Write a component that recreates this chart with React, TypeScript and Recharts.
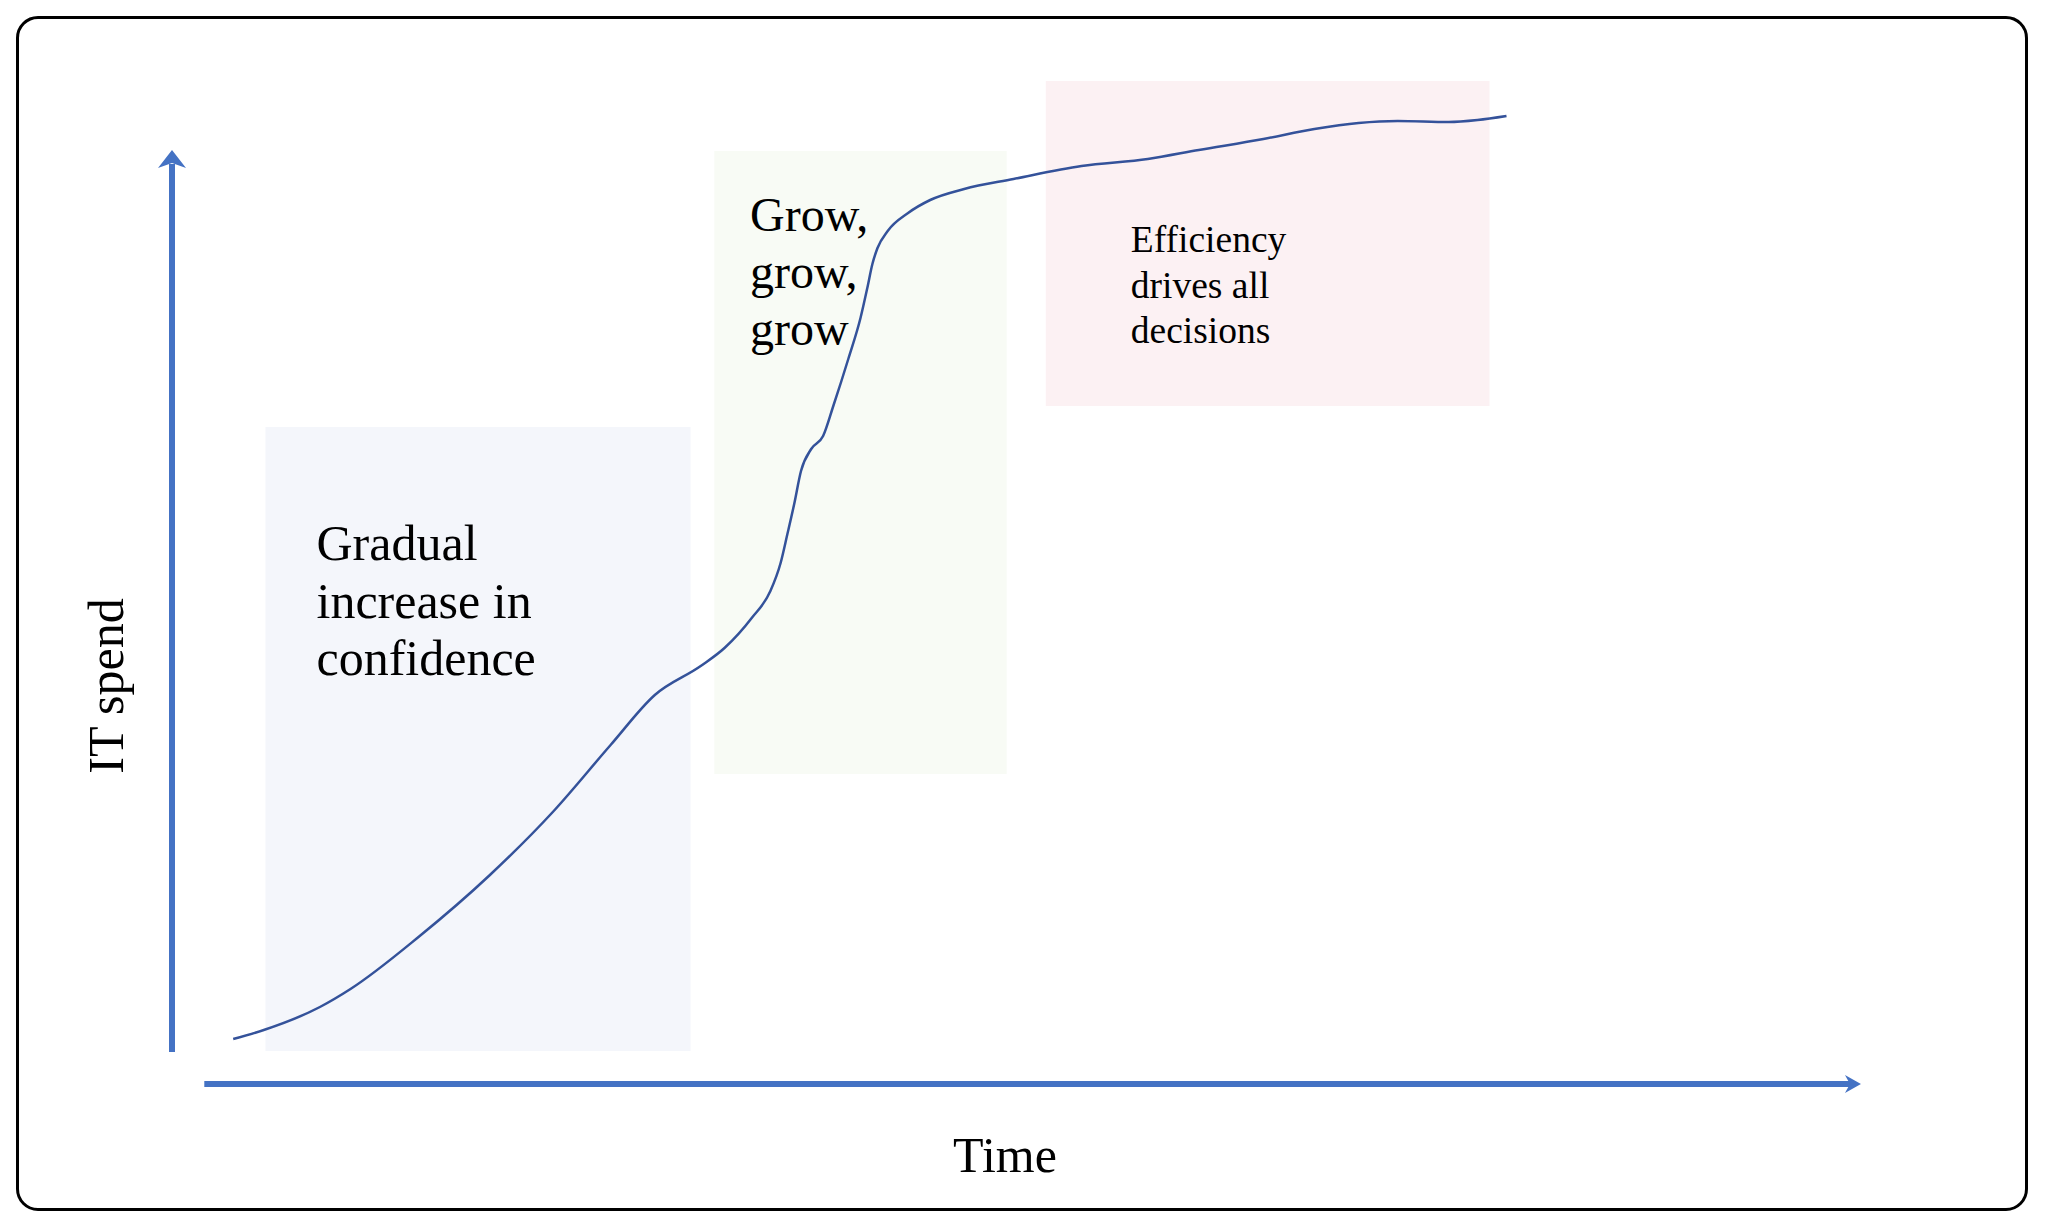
import React from 'react';
import {
  ComposedChart,
  Line,
  XAxis,
  YAxis,
  ReferenceArea,
  ReferenceLine,
  ReferenceDot,
} from 'recharts';

// ---- curve (time vs IT spend) ----
const timeValues = [
  3.6, 5.4, 8.7, 10.5, 14.5, 18.7, 22.4, 25.8, 28.4, 31.1, 32.5, 34.1, 35.2, 35.8,
  36.2, 36.6, 37.0, 37.6, 38.3, 38.9, 39.8, 40.5, 40.9, 41.2, 41.5, 42.1, 43.3,
  44.6, 46.6, 49.5, 53.5, 57.4, 60.4, 64.2, 67.2, 69.8, 72.1, 75.1, 76.8, 78.5,
];
const spendValues = [
  4.5, 5.4, 7.7, 9.5, 14.7, 20.9, 27.2, 33.9, 38.9, 41.8, 43.6, 46.6, 49.3, 52.1,
  55.0, 58.0, 61.3, 63.5, 64.8, 67.8, 72.6, 76.6, 79.6, 82.0, 83.6, 85.3, 87.1,
  88.4, 89.5, 90.5, 91.8, 92.5, 93.4, 94.5, 95.5, 96.1, 96.3, 96.2, 96.4, 96.8,
];

// ---- phase boxes ----
const phaseStart = [5.5, 31.9, 51.4];
const phaseEnd = [30.5, 49.1, 77.5];
const phaseLow = [3.3, 31.0, 67.8];
const phaseHigh = [65.7, 93.3, 100.3];
const phaseColors = ['#F4F6FB', '#F8FBF5', '#FCF1F3'];

// ---- phase texts ----
const phaseLabels = [
  ['Gradual', 'increase in', 'confidence'],
  ['Grow,', 'grow,', 'grow'],
  ['Efficiency', 'drives all', 'decisions'],
];
const labelX = [8.5, 34.0, 56.4];
const labelY = [52.4, 85.3, 83.2];
const labelSize = [50, 48, 37.5];
const labelLineHeight = [57.5, 57, 45.5];

// ---- axis titles ----
const xTitle = 'Time';
const yTitle = 'IT spend';

const AXIS_COLOR = '#4472C4';
const LINE_COLOR = '#34529A';
const FONT = "'Liberation Serif', 'Times New Roman', serif";

const data = timeValues.map((t, i) => ({ time: t, spend: spendValues[i] }));

const multiLine = (lines: string[], size: number, lh: number) => (p: any) => (
  <text x={p.cx} y={p.cy} fontFamily={FONT} fontSize={size} fill="#000">
    {lines.map((l, i) => (
      <tspan key={i} x={p.cx} dy={i === 0 ? 0 : lh}>
        {l}
      </tspan>
    ))}
  </text>
);

const upArrow = (p: any) => (
  <polygon
    points={`${p.cx},${p.cy} ${p.cx + 14},${p.cy + 18} ${p.cx},${p.cy + 13} ${p.cx - 14},${p.cy + 18}`}
    fill={AXIS_COLOR}
  />
);

const rightArrow = (p: any) => (
  <polygon
    points={`${p.cx},${p.cy} ${p.cx - 16},${p.cy - 9} ${p.cx - 11},${p.cy} ${p.cx - 16},${p.cy + 9}`}
    fill={AXIS_COLOR}
  />
);

const xTitleShape = (p: any) => (
  <text x={p.cx} y={p.cy} textAnchor="middle" fontFamily={FONT} fontSize={50} fill="#000">
    {xTitle}
  </text>
);

const yTitleShape = (p: any) => (
  <text
    x={p.cx}
    y={p.cy}
    textAnchor="middle"
    fontFamily={FONT}
    fontSize={50}
    fill="#000"
    transform={`rotate(-90, ${p.cx}, ${p.cy})`}
  >
    {yTitle}
  </text>
);

export default function App() {
  return (
    <div style={{ position: 'absolute', left: 0, top: 0, width: 2048, height: 1224, background: '#fff' }}>
      <div
        style={{
          position: 'absolute',
          left: 16,
          top: 16,
          width: 2012,
          height: 1195,
          boxSizing: 'border-box',
          border: '3px solid #000',
          borderRadius: 22,
        }}
      />
      <div style={{ position: 'absolute', left: 0, top: 0 }}>
        <ComposedChart
          width={2048}
          height={1224}
          data={data}
          margin={{ top: 84, right: 176, bottom: 140, left: 172 }}
        >
          <XAxis dataKey="time" type="number" domain={[0, 100]} hide />
          <YAxis type="number" domain={[0, 100]} hide />
          {phaseStart.map((s, i) => (
            <ReferenceArea
              key={'a' + i}
              x1={s}
              x2={phaseEnd[i]}
              y1={phaseLow[i]}
              y2={phaseHigh[i]}
              fill={phaseColors[i]}
              fillOpacity={1}
              stroke="none"
              ifOverflow="visible"
            />
          ))}
          <ReferenceLine
            segment={[{ x: 0, y: 3.2 }, { x: 0, y: 92 }]}
            stroke={AXIS_COLOR}
            strokeWidth={6}
            ifOverflow="visible"
          />
          <ReferenceLine
            segment={[{ x: 1.9, y: 0 }, { x: 98.8, y: 0 }]}
            stroke={AXIS_COLOR}
            strokeWidth={6}
            ifOverflow="visible"
          />
          <ReferenceDot x={0} y={93.4} r={0} ifOverflow="visible" shape={upArrow} />
          <ReferenceDot x={99.35} y={0} r={0} ifOverflow="visible" shape={rightArrow} />
          {phaseLabels.map((lines, i) => (
            <ReferenceDot
              key={'t' + i}
              x={labelX[i]}
              y={labelY[i]}
              r={0}
              ifOverflow="visible"
              shape={multiLine(lines, labelSize[i], labelLineHeight[i])}
            />
          ))}
          <ReferenceDot x={49.0} y={-8.8} r={0} ifOverflow="visible" shape={xTitleShape} />
          <ReferenceDot x={-2.9} y={39.8} r={0} ifOverflow="visible" shape={yTitleShape} />
          <Line
            type="monotone"
            dataKey="spend"
            stroke={LINE_COLOR}
            strokeWidth={2.5}
            dot={false}
            activeDot={false}
            isAnimationActive={false}
          />
        </ComposedChart>
      </div>
    </div>
  );
}
